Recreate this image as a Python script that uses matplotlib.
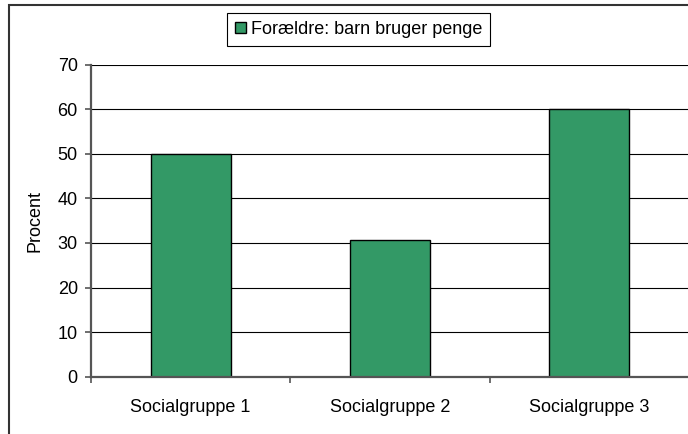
import matplotlib
matplotlib.use("Agg")
import matplotlib.pyplot as plt
from matplotlib.patches import Rectangle

plt.rcParams['font.family'] = ['Liberation Sans', 'DejaVu Sans']

categories = ["Socialgruppe 1", "Socialgruppe 2", "Socialgruppe 3"]
values = [50, 30.6, 60]
series_name = "Forældre: barn bruger penge"
y_ticks = [0, 10, 20, 30, 40, 50, 60, 70]

W, H = 688, 434
fig = plt.figure(figsize=(W / 100, H / 100), dpi=100)

# outer chart frame
fig.patches.append(Rectangle((9 / W, -0.1), 1.2, 1.1 - 5 / H, transform=fig.transFigure,
                             fill=False, edgecolor='#333333', linewidth=1.5, zorder=0))

ax_left, ax_bottom = 91 / W, (H - 376.7) / H
ax = fig.add_axes([ax_left, ax_bottom, 598 / W, 312 / H])
ax.set_facecolor('none')

x = list(range(len(categories)))
ax.bar(x, values, width=0.4, color='#339966', edgecolor='black', linewidth=1.0,
       label=series_name, zorder=3)

ax.set_xlim(-0.5, len(categories) - 0.5)
ax.set_ylim(0, 70)
ax.set_yticks(y_ticks)
ax.yaxis.grid(True, color='black', linewidth=0.8, zorder=0)
ax.set_axisbelow(True)

ax.set_xticks(x)
ax.set_xticklabels(categories, fontsize=13)
ax.set_xticks([i - 0.5 for i in range(len(categories) + 1)], minor=True)
ax.tick_params(axis='x', which='major', length=0, pad=16)
ax.tick_params(axis='x', which='minor', length=4, width=1.2, color='#555555')
ax.tick_params(axis='y', which='major', length=4.5, width=1.2, color='#555555',
               labelsize=13, pad=5)

for s in ('top', 'right'):
    ax.spines[s].set_visible(False)
for s in ('left', 'bottom'):
    ax.spines[s].set_color('#555555')
    ax.spines[s].set_linewidth(1.6)
    ax.spines[s].set_zorder(4)

ax.set_ylabel("Procent", fontsize=13, labelpad=10)

leg = fig.legend(loc='center', bbox_to_anchor=(358.5 / W, 1 - 29.4 / H),
                 fontsize=13, frameon=True, fancybox=False, framealpha=1,
                 edgecolor='black', handlelength=0.6, handleheight=0.6,
                 handletextpad=0.3, borderpad=0.45, borderaxespad=0)
leg.get_frame().set_linewidth(0.8)

fig.savefig("out.png", dpi=100)
